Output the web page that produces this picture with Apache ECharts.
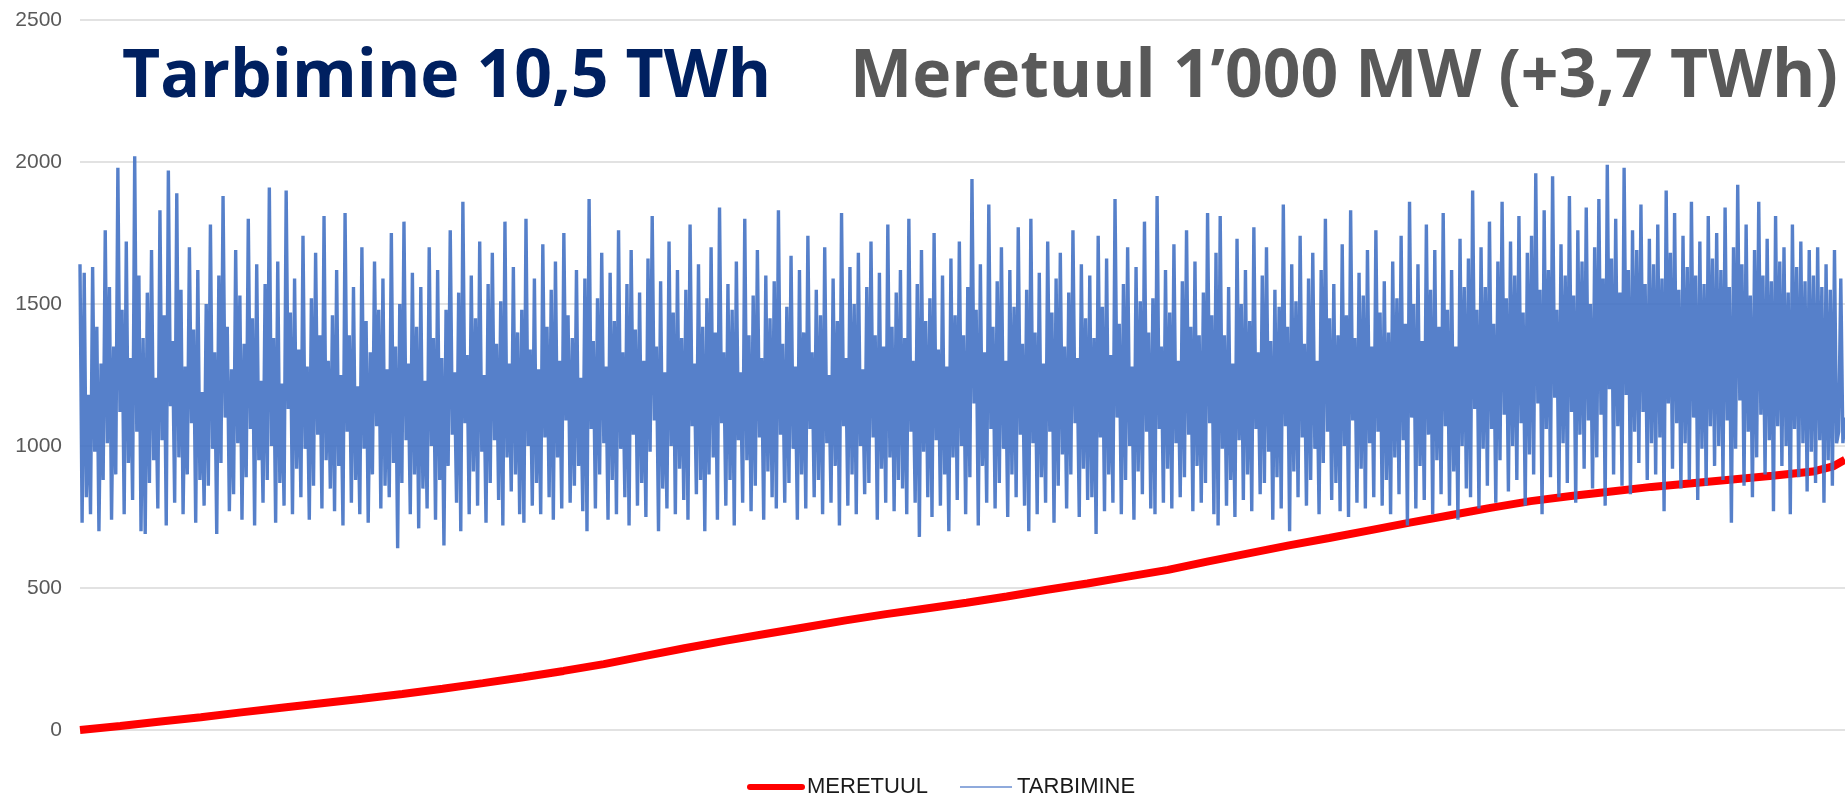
<!DOCTYPE html>
<html>
<head>
<meta charset="utf-8">
<title>Tarbimine ja meretuul</title>
<script src="https://cdn.jsdelivr.net/npm/echarts@6.0.0/dist/echarts.min.js"></script>
<style>
html, body { margin: 0; padding: 0; background: #fff; }
#chart { width: 1845px; height: 796px; }
</style>
</head>
<body>
<div id="chart"></div>
<script>
// y axis ticks (MW)
var yTicks = [0, 500, 1000, 1500, 2000, 2500];
var seriesNames = ['MERETUUL', 'TARBIMINE'];

// meretuul: hour of year -> MW
var meretuulHours = [0, 200, 400, 600, 800, 1000, 1200, 1400, 1600, 1800,
  2000, 2200, 2400, 2600, 2800, 3000, 3200, 3400, 3600, 3800,
  4000, 4200, 4400, 4600, 4800, 5000, 5200, 5400, 5600, 5800,
  6000, 6200, 6400, 6600, 6800, 7000, 7200, 7400, 7600, 7800,
  8000, 8200, 8400, 8600, 8700, 8760];
var meretuulMW = [0, 14, 30, 45, 62, 78, 94, 110, 127, 145,
  165, 186, 208, 232, 260, 288, 314, 338, 362, 386,
  408, 428, 448, 470, 494, 516, 540, 564, 594, 622,
  650, 676, 703, 730, 756, 782, 806, 824, 840, 856,
  869, 882, 895, 910, 928, 952];

// tarbimine (MW), sampled across the year
var tarbimineMW = [
  1640,730,1610,820,1180,760,1630,980,1420,700,1290,880,1760,1010,1560,740,1350,900,1980,1120,1480,760,1720,940,1310,810,2020,1050,1600,700,
  1380,690,1540,870,1690,950,1240,780,1830,1020,1460,720,1970,1140,1370,800,1890,960,1550,760,1280,900,1700,1080,1410,730,1620,880,1190,790,
  1500,860,1780,990,1330,690,1600,940,1880,1100,1420,770,1270,830,1690,1010,1530,740,1360,890,1800,1060,1450,720,1640,950,1230,800,1570,880,
  1910,1000,1380,730,1650,870,1220,790,1900,1130,1470,760,1590,920,1340,820,1740,990,1280,740,1520,860,1680,1040,1390,780,1810,950,1300,850,
  1460,770,1620,930,1250,720,1820,1050,1390,800,1560,880,1210,760,1700,990,1440,730,1330,900,1650,1070,1480,780,1590,860,1270,820,1750,940,
  1350,640,1500,870,1790,1020,1290,760,1610,900,1420,710,1560,850,1230,780,1700,1000,1380,740,1620,880,1310,650,1480,930,1760,1040,1260,800,
  1540,700,1860,1080,1320,760,1600,910,1450,790,1720,980,1250,730,1570,870,1680,1020,1360,810,1510,720,1790,960,1290,840,1630,900,1400,760,
  1480,730,1800,1000,1340,790,1590,870,1270,760,1710,1030,1420,820,1550,740,1650,960,1300,780,1750,1090,1460,800,1380,860,1620,930,1240,770,
  1590,700,1870,1060,1370,780,1520,900,1680,1010,1280,740,1610,880,1440,760,1760,990,1330,820,1570,720,1690,1040,1410,790,1540,870,1300,750,
  1660,980,1810,1090,1350,700,1580,850,1260,780,1720,1000,1470,760,1620,920,1380,810,1550,740,1780,1070,1290,830,1640,880,1420,700,1520,900,
  1700,960,1400,740,1840,1080,1330,790,1570,880,1480,720,1650,1020,1260,800,1800,950,1390,770,1530,860,1690,1030,1310,740,1600,910,1450,820,
  1580,780,1830,1040,1360,800,1490,870,1670,990,1280,740,1620,900,1400,780,1740,1060,1330,820,1550,880,1460,760,1700,1010,1250,800,1590,930,
  1440,720,1820,1070,1310,790,1630,900,1500,760,1680,1000,1270,830,1560,870,1720,1030,1390,740,1610,920,1350,800,1780,960,1420,770,1540,880,
  1620,850,1380,760,1800,1050,1300,800,1570,680,1690,980,1440,820,1520,750,1750,1020,1340,790,1600,900,1280,700,1660,960,1460,810,1720,1000,
  1390,760,1560,890,1940,1150,1480,720,1640,930,1330,800,1850,1060,1420,780,1580,870,1700,990,1300,750,1620,900,1490,820,1770,1040,1360,790,
  1550,700,1800,1010,1400,760,1610,890,1290,800,1720,1050,1470,730,1590,860,1680,970,1350,780,1540,900,1760,1080,1310,750,1640,920,1450,810,
  1600,820,1380,690,1740,1030,1490,770,1660,900,1320,800,1870,1100,1430,760,1570,880,1700,1000,1280,740,1630,910,1510,830,1790,1050,1400,780,
  1520,760,1880,1060,1350,800,1620,920,1470,780,1710,1010,1300,820,1580,890,1760,1040,1420,770,1650,930,1390,800,1540,870,1820,1080,1460,760,
  1680,720,1810,990,1390,790,1560,880,1290,750,1730,1020,1500,810,1620,900,1440,770,1770,1060,1330,830,1600,870,1700,980,1370,740,1550,890,
  1490,780,1850,1070,1420,700,1640,910,1510,820,1740,1030,1360,790,1590,880,1680,990,1300,760,1620,940,1800,1050,1450,810,1570,870,1390,770,
  1710,1000,1460,750,1830,1090,1380,800,1610,920,1530,780,1690,1010,1350,820,1760,1050,1470,790,1580,880,1400,760,1650,960,1520,830,1740,1020,
  1430,720,1860,1100,1500,780,1640,930,1370,810,1780,1040,1550,760,1690,950,1420,830,1820,1070,1480,790,1620,910,1350,740,1730,1000,1560,850,
  1660,820,1900,1130,1480,780,1700,990,1560,860,1790,1060,1430,800,1650,950,1860,1110,1520,840,1720,1000,1600,880,1810,1080,1470,790,1680,970,
  1740,900,1960,1150,1550,760,1830,1060,1620,890,1950,1170,1480,820,1710,1010,1600,870,1880,1120,1530,800,1760,1040,1650,920,1840,1090,1500,850,
  1700,960,1870,1110,1590,790,1990,1200,1660,900,1800,1070,1540,860,1980,1180,1620,830,1760,1050,1690,940,1850,1120,1570,880,1730,1010,1640,900,
  1780,1030,1590,770,1900,1150,1680,920,1820,1080,1550,850,1740,1010,1630,880,1860,1100,1600,810,1720,990,1570,860,1810,1070,1660,930,1750,1000,
  1620,880,1840,1090,1560,730,1700,990,1920,1160,1640,860,1780,1050,1530,820,1690,960,1860,1110,1600,900,1730,1020,1580,770,1810,1070,1650,930,
  1700,1000,1540,760,1780,1060,1630,890,1720,1010,1580,840,1690,980,1600,870,1700,1020,1560,800,1640,950,1550,860,1690,1010,1050,1590,1010,1100
];

var chart = echarts.init(document.getElementById('chart'));
chart.setOption({
  animation: false,
  backgroundColor: '#ffffff',
  title: [{
    text: 'Tarbimine 10,5 TWh',
    left: 117,
    top: 40,
    textStyle: { fontFamily: 'Open Sans', fontWeight: 'bold', fontSize: 66, color: '#002060' }
  }, {
    text: 'Meretuul 1’000 MW (+3,7 TWh)',
    left: 845,
    top: 40,
    textStyle: { fontFamily: 'Open Sans', fontWeight: 'bold', fontSize: 66, color: '#595959' }
  }],
  grid: { left: 80, right: 0, top: 20, bottom: 66 },
  legend: {
    left: 742,
    top: 771,
    itemWidth: 52,
    itemHeight: 12,
    itemGap: 31,
    textStyle: { fontFamily: 'Liberation Sans', fontSize: 22, color: '#1a1a1a' },
    data: [
      { name: seriesNames[0], itemStyle: { opacity: 0 }, lineStyle: { width: 6, cap: 'round' } },
      { name: seriesNames[1], itemStyle: { opacity: 0 }, lineStyle: { width: 2, color: '#8faadc' } }
    ]
  },
  xAxis: [{
    type: 'value', min: 0, max: 8760, show: false
  }, {
    type: 'category', boundaryGap: false, show: false,
    data: tarbimineMW.map(function (v, i) { return i; })
  }],
  yAxis: {
    type: 'value',
    min: yTicks[0],
    max: yTicks[yTicks.length - 1],
    interval: yTicks[1] - yTicks[0],
    axisLine: { show: false },
    axisTick: { show: false },
    axisLabel: {
      margin: 18, fontFamily: 'Liberation Sans', fontSize: 21, color: '#595959',
      formatter: function (v) { return String(v); }
    },
    splitLine: { lineStyle: { color: '#d9d9d9', width: 1.5 } }
  },
  series: [{
    name: seriesNames[0],
    type: 'line',
    xAxisIndex: 0,
    symbol: 'none',
    data: meretuulHours.map(function (h, i) { return [h, meretuulMW[i]]; }),
    lineStyle: { color: '#ff0000', width: 8 },
    itemStyle: { color: '#ff0000' }
  }, {
    name: seriesNames[1],
    type: 'line',
    xAxisIndex: 1,
    symbol: 'none',
    data: tarbimineMW,
    lineStyle: { color: 'rgba(68,114,196,0.9)', width: 3.4 },
    itemStyle: { color: '#4472C4' }
  }]
});
</script>
</body>
</html>
